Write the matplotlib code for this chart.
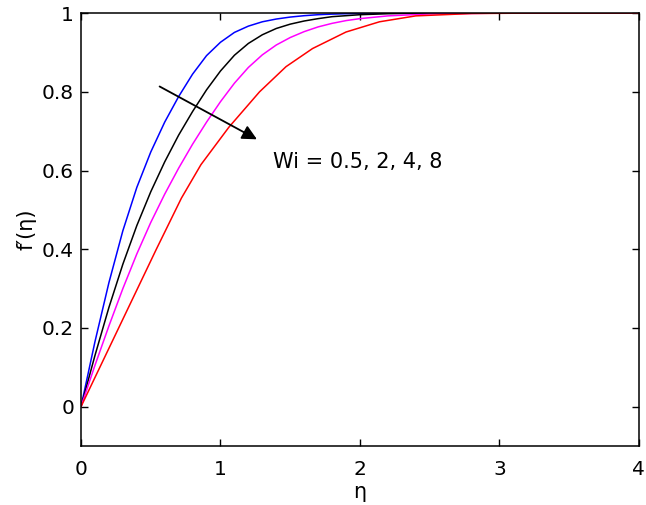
import numpy as np
import matplotlib
matplotlib.use('Agg')
import matplotlib.pyplot as plt

plt.rcParams['font.family'] = ['DejaVu Sans']

# f'(eta) profiles, one per Wi
eta_b = [0, 0.1, 0.2, 0.3, 0.4, 0.5, 0.6, 0.7, 0.8, 0.9, 1.0, 1.1, 1.2, 1.3, 1.4, 1.5, 1.6, 1.7, 1.8, 1.9, 2.0, 2.2, 2.5, 3.0, 4.0]
f_b = [0, 0.165, 0.315, 0.447, 0.557, 0.647, 0.723, 0.788, 0.845, 0.892, 0.926, 0.951, 0.967, 0.978, 0.985, 0.99, 0.9935, 0.996, 0.9975, 0.9985, 0.9992, 0.9998, 1.0, 1.0, 1.0]

eta_k = [0, 0.1, 0.2, 0.3, 0.4, 0.5, 0.6, 0.7, 0.8, 0.9, 1.0, 1.1, 1.2, 1.3, 1.4, 1.5, 1.6, 1.7, 1.8, 2.0, 2.2, 2.5, 3.0, 4.0]
f_k = [0, 0.13, 0.252, 0.362, 0.46, 0.546, 0.622, 0.69, 0.75, 0.805, 0.853, 0.893, 0.923, 0.945, 0.961, 0.972, 0.98, 0.986, 0.991, 0.996, 0.9985, 1.0, 1.0, 1.0]

eta_m = [0, 0.1, 0.2, 0.3, 0.4, 0.5, 0.6, 0.7, 0.8, 0.9, 1.0, 1.1, 1.2, 1.3, 1.4, 1.5, 1.6, 1.7, 1.8, 1.9, 2.0, 2.2, 2.5, 3.0, 4.0]
f_m = [0, 0.105, 0.205, 0.3, 0.388, 0.468, 0.54, 0.606, 0.667, 0.723, 0.775, 0.822, 0.862, 0.894, 0.919, 0.938, 0.953, 0.965, 0.974, 0.981, 0.986, 0.993, 0.998, 1.0, 1.0]

eta_r = [0, 0.27, 0.54, 0.72, 0.86, 1.06, 1.28, 1.47, 1.66, 1.90, 2.14, 2.40, 2.8, 3.2, 4.0]
f_r = [0, 0.2, 0.4, 0.53, 0.615, 0.71, 0.80, 0.864, 0.91, 0.952, 0.978, 0.993, 0.999, 1.0, 1.0]

xticks = [0, 1, 2, 3, 4]
yticks = [0, 0.2, 0.4, 0.6, 0.8, 1.0]
ytick_labels = ['0', '0.2', '0.4', '0.6', '0.8', '1']

fig = plt.figure(figsize=(6.46, 5.05), dpi=100)
ax = fig.add_axes([0.1254, 0.1168, 0.989 - 0.1254, 0.974 - 0.1168])

ax.plot(eta_b, f_b, color='blue', lw=1.1)
ax.plot(eta_k, f_k, color='black', lw=1.1)
ax.plot(eta_m, f_m, color='magenta', lw=1.1)
ax.plot(eta_r, f_r, color='red', lw=1.1)

ax.annotate('', xy=(1.279, 0.676), xytext=(0.546, 0.817),
            arrowprops=dict(arrowstyle='-|>', color='black', lw=1.3, mutation_scale=22))
ax.text(1.377, 0.622, 'Wi = 0.5, 2, 4, 8', fontsize=15, va='center', ha='left')

ax.set_xlim(0, 4)
ax.set_ylim(-0.1, 1)
ax.set_xticks(xticks)
ax.set_xticklabels([str(t) for t in xticks])
ax.set_yticks(yticks)
ax.set_yticklabels(ytick_labels)
ax.tick_params(direction='in', top=True, right=True, length=5, width=1, labelsize=14.5)
ax.tick_params(axis='x', pad=10)
ax.tick_params(axis='y', pad=5)
for s in ax.spines.values():
    s.set_linewidth(1.1)

ax.set_xlabel('η', fontsize=15, labelpad=2)
ax.set_ylabel('f′(η)', fontsize=15, labelpad=4)

fig.savefig('out.png', dpi=100)
